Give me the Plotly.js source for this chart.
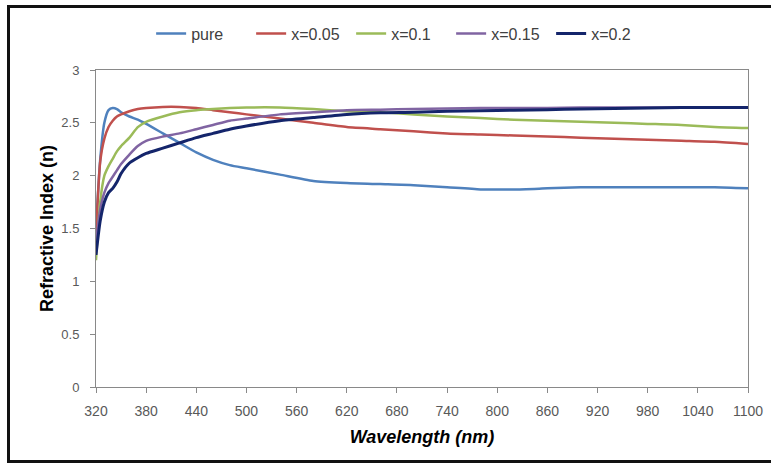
<!DOCTYPE html>
<html>
<head>
<meta charset="utf-8">
<script src="https://cdn.plot.ly/plotly-3.0.1.min.js"></script>
<style>
  html, body { margin: 0; padding: 0; background: #fff; overflow: hidden; }
  #wrap { position: relative; width: 771px; height: 466px; overflow: hidden; }
  #chart { width: 771px; height: 466px; }
  #frame { position: absolute; left: 7px; top: 5px; width: 800px; height: 458px;
           box-sizing: border-box; border: 3px solid #111; pointer-events: none; }
</style>
</head>
<body>
<div id="wrap">
  <div id="chart"></div>
  <div id="frame"></div>
</div>
<script>
// Wavelength grid (nm)
const wavelength = [320, 325, 330, 335, 340, 345, 350, 360, 370, 380, 400, 420, 440, 460, 480, 500,
                    540, 580, 620, 660, 700, 740, 780, 820, 860, 900, 940, 980, 1020, 1060, 1100];

// Refractive index series
const pure  = [1.50, 2.15, 2.50, 2.62, 2.64, 2.63, 2.60, 2.56, 2.53, 2.49, 2.40, 2.31, 2.22, 2.15, 2.10, 2.07,
               2.01, 1.95, 1.93, 1.92, 1.91, 1.89, 1.87, 1.87, 1.88, 1.89, 1.89, 1.89, 1.89, 1.89, 1.88];
const x005  = [1.44, 2.13, 2.35, 2.46, 2.52, 2.56, 2.58, 2.61, 2.63, 2.64, 2.65, 2.65, 2.64, 2.62, 2.60, 2.58,
               2.54, 2.50, 2.46, 2.44, 2.42, 2.40, 2.39, 2.38, 2.37, 2.36, 2.35, 2.34, 2.33, 2.32, 2.30];
const x01   = [1.20, 1.75, 2.00, 2.09, 2.16, 2.23, 2.28, 2.36, 2.46, 2.51, 2.56, 2.60, 2.62, 2.63, 2.64, 2.645,
               2.645, 2.63, 2.61, 2.60, 2.58, 2.56, 2.545, 2.53, 2.52, 2.51, 2.50, 2.49, 2.48, 2.46, 2.45];
const x015  = [1.37, 1.68, 1.84, 1.93, 1.99, 2.05, 2.11, 2.20, 2.28, 2.33, 2.37, 2.40, 2.44, 2.48, 2.52, 2.54,
               2.58, 2.60, 2.62, 2.625, 2.63, 2.635, 2.64, 2.64, 2.64, 2.645, 2.645, 2.645, 2.645, 2.645, 2.645];
const x02   = [1.25, 1.57, 1.75, 1.84, 1.88, 1.94, 2.02, 2.12, 2.17, 2.21, 2.26, 2.31, 2.36, 2.40, 2.44, 2.47,
               2.52, 2.55, 2.58, 2.595, 2.60, 2.61, 2.615, 2.62, 2.625, 2.63, 2.635, 2.64, 2.645, 2.645, 2.645];

const seriesNames = ["pure", "x=0.05", "x=0.1", "x=0.15", "x=0.2"];
const seriesData  = [pure, x005, x01, x015, x02];
const seriesColors = ["#4F81BD", "#C0504D", "#9BBB59", "#8064A2", "#14256B"];
const seriesWidths = [2.5, 2.5, 2.5, 2.5, 3];

const traces = seriesNames.map((name, i) => ({
  type: "scatter",
  mode: "lines",
  name: name,
  x: wavelength,
  y: seriesData[i],
  line: { color: seriesColors[i], width: seriesWidths[i], shape: "spline", smoothing: 0.6 }
}));

const layout = {
  width: 771,
  height: 466,
  margin: { l: 96, r: 23, t: 70, b: 79 },
  paper_bgcolor: "#ffffff",
  plot_bgcolor: "#ffffff",
  font: { family: "Liberation Sans, Arial, sans-serif", color: "#595959" },
  showlegend: true,
  legend: {
    orientation: "h",
    x: 0.468, xanchor: "center",
    y: 1.115, yanchor: "middle",
    font: { size: 16, color: "#404040" },
    entrywidth: 55,
    entrywidthmode: "pixels"
  },
  xaxis: {
    range: [320, 1100],
    tick0: 320, dtick: 60,
    showgrid: false, zeroline: false,
    showline: true, linecolor: "#898989", linewidth: 1, mirror: true,
    ticks: "outside", ticklen: 5, tickcolor: "#898989",
    ticklabelstandoff: 6,
    tickfont: { size: 14, color: "#595959" },
    title: { text: "Wavelength (nm)", font: { size: 18, color: "#000", family: "Liberation Sans, Arial, sans-serif", weight: "bold", style: "italic" }, standoff: 12 }
  },
  yaxis: {
    range: [0, 3],
    tick0: 0, dtick: 0.5,
    showgrid: false, zeroline: false,
    showline: true, linecolor: "#898989", linewidth: 1, mirror: true,
    ticks: "outside", ticklen: 5, tickcolor: "#898989",
    ticklabelstandoff: 8,
    tickfont: { size: 13, color: "#595959" },
    title: { text: "Refractive Index (n)", font: { size: 18, color: "#000", family: "Liberation Sans, Arial, sans-serif", weight: "bold" }, standoff: 3 }
  },
  hovermode: false
};

Plotly.newPlot("chart", traces, layout, { displayModeBar: false, staticPlot: true });
</script>
</body>
</html>
